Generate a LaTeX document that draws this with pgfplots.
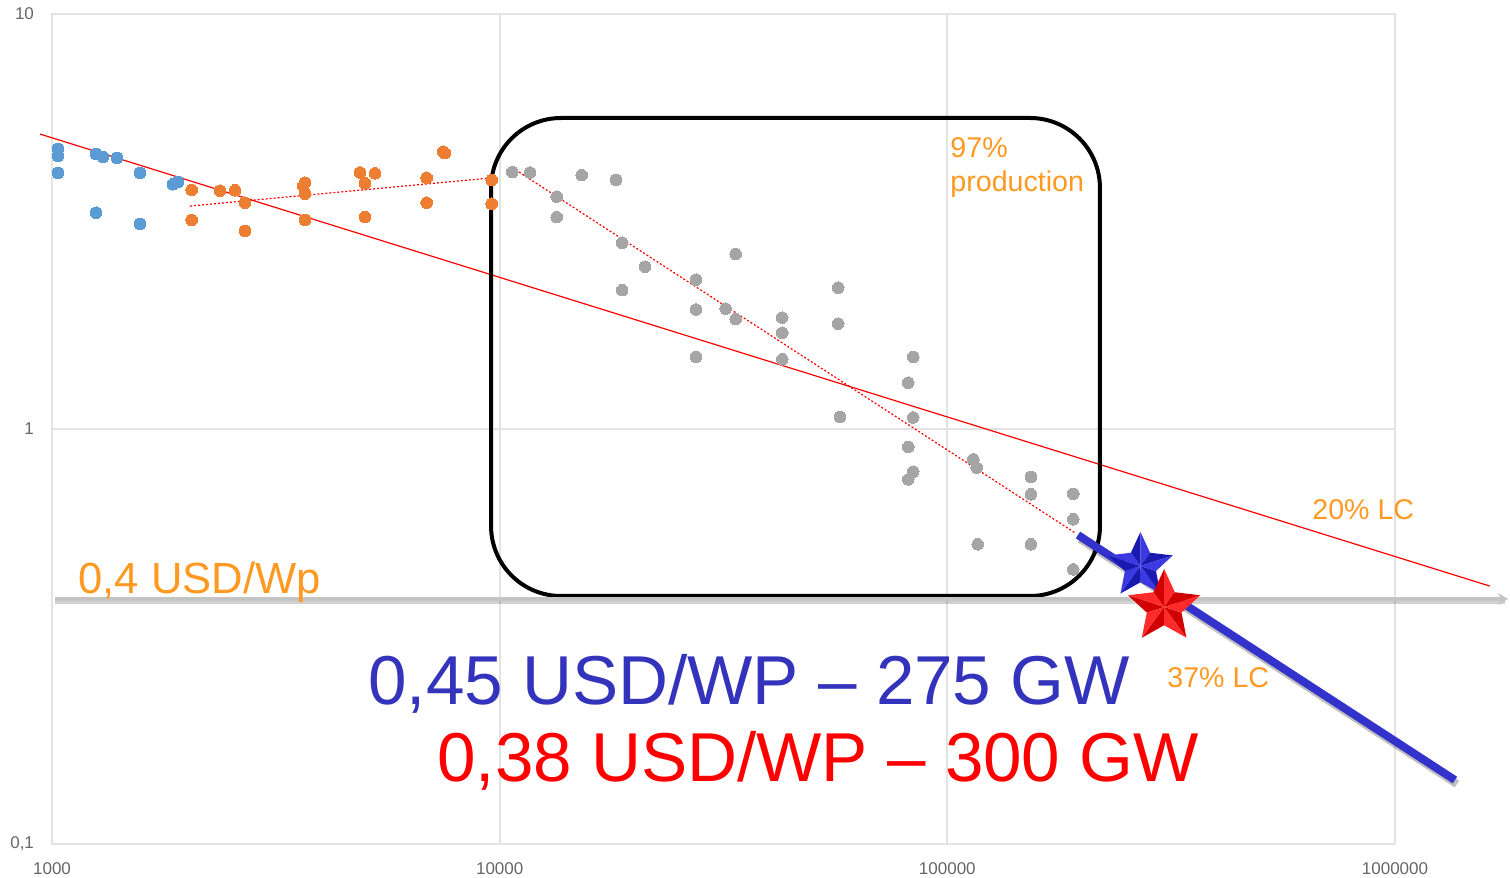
\documentclass[border=0pt]{standalone}
\usepackage{pgfplots}
\pgfplotsset{compat=1.18}
\usepackage{fontspec}
\setmainfont{Liberation Sans}
\usetikzlibrary{arrows.meta}
\definecolor{cblue}{HTML}{5B9BD5}
\definecolor{corange}{HTML}{ED7D31}
\definecolor{cgray}{HTML}{A5A5A5}
\definecolor{gridc}{HTML}{E3E3E3}
\definecolor{txtorange}{HTML}{FF9922}
\definecolor{txtblue}{HTML}{3333BB}
\definecolor{lineblue}{HTML}{3333CC}
\definecolor{ticktxt}{HTML}{666666}
\definecolor{hline}{HTML}{C4C4C4}
\definecolor{bstarL}{HTML}{3A3AE0}
\definecolor{bstarD}{HTML}{1A1AB0}
\definecolor{rstarL}{HTML}{FF2A2A}
\definecolor{rstarD}{HTML}{D00000}

\newcommand\defstar[3]{%
 \pgfdeclareplotmark{#1}{%
  \foreach \k in {0,...,4}{%
    \pgfmathsetmacro\aa{90+72*\k}%
    \pgfmathsetmacro\bb{90+72*\k+36}%
    \pgfmathsetmacro\cc{90+72*\k-36}%
    \pgfpathmoveto{\pgfpointorigin}%
    \pgfpathlineto{\pgfpointpolar{\aa}{\pgfplotmarksize}}%
    \pgfpathlineto{\pgfpointpolar{\bb}{0.48\pgfplotmarksize}}%
    \pgfpathclose
    \pgfsetfillcolor{#3}\pgfusepath{fill}%
    \pgfpathmoveto{\pgfpointorigin}%
    \pgfpathlineto{\pgfpointpolar{\aa}{\pgfplotmarksize}}%
    \pgfpathlineto{\pgfpointpolar{\cc}{0.48\pgfplotmarksize}}%
    \pgfpathclose
    \pgfsetfillcolor{#2}\pgfusepath{fill}%
  }%
 }}
\defstar{bluestar}{bstarL}{bstarD}
\defstar{redstar}{rstarL}{rstarD}
\begin{document}
\begin{tikzpicture}
\path[use as bounding box] (-26pt,-17pt) rectangle (729pt,422pt);
\begin{axis}[
  xmode=log, ymode=log,
  width=671.5pt, height=415pt, scale only axis,
  xmin=1000, xmax=1000000, ymin=0.1, ymax=10,
  clip=false,
  grid=major,
  major grid style={draw=gridc, line width=0.9pt},
  axis line style={draw=gridc, line width=0.9pt},
  major tick length=0pt, minor tick length=0pt,
  xtick={1000,10000,100000,1000000},
  xticklabels={1000,10000,100000,1000000},
  ytick={0.1,1,10},
  yticklabels={{0,1},1,10},
  ticklabel style={font=\fontsize{8.5}{10}\selectfont, text=ticktxt},
  yticklabel style={xshift=-5.5pt},
  xticklabel style={yshift=-6pt},
]
% scatter data
\addplot[only marks, color=cblue, mark=*, mark size=2.9pt, mark options={draw=cblue, fill=cblue, line width=0pt}] coordinates {
(1031,4.73) (1031,4.55) (1031,4.14) (1254,4.60) (1300,4.52) (1397,4.50)
(1573,4.14) (1863,3.89) (1911,3.94) (1254,3.32) (1573,3.12)
};
\addplot[only marks, color=corange, mark=*, mark size=2.9pt, mark options={draw=corange, fill=corange, line width=0pt}] coordinates {
(2051,3.77) (2373,3.75) (2564,3.76) (2698,3.51) (2051,3.19) (2698,3.00)
(3641,3.85) (3673,3.92) (3673,3.69) (3673,3.19) (4875,4.15) (5267,4.13)
(5002,3.91) (5002,3.24) (6869,4.03) (6869,3.51) (7547,4.62) (7480,4.66)
(9596,3.98) (9596,3.49)
};
\addplot[only marks, color=cgray, mark=*, mark size=2.9pt, mark options={draw=cgray, fill=cgray, line width=0pt}] coordinates {
(10670,4.16) (11686,4.15) (15250,4.09) (18190,3.98) (13410,3.63) (13410,3.24)
(18780,2.81) (21120,2.46) (18780,2.16) (27450,2.29) (27450,1.94) (31970,1.95)
(33660,2.64) (33660,1.84) (27450,1.49) (42780,1.855) (42780,1.706) (42780,1.472)
(57050,2.19) (57050,1.794) (57550,1.069) (83900,1.491) (81770,1.293) (83900,1.066)
(81770,0.905) (83900,0.789) (81770,0.756) (114300,0.845) (116300,0.807)
(153700,0.766) (153700,0.696) (191100,0.698) (191100,0.606) (116900,0.5275)
(153700,0.5275) (191100,0.459)
};
% trend lines
\addplot[red, line width=0.6pt] coordinates {(940,5.137) (1629000,0.4183)};
\addplot[red, line width=0.6pt, dash pattern=on 1pt off 1pt] coordinates {(2033,3.445) (9513,4.025)};
\addplot[red, line width=0.6pt, dash pattern=on 1pt off 1pt] coordinates {(10670,4.262) (192700,0.5624)};
% rounded box
\draw[black, line width=2pt, rounded corners=35pt] (rel axis cs:0.3269,0.2988) rectangle (rel axis cs:0.7803,0.8747);
% 0.4 USD/Wp line
\addplot[black, opacity=0.18, line width=2pt, yshift=-1.5pt, forget plot] coordinates {(1015,0.3894) (1760000,0.3894)};
\addplot[hline, line width=2pt, -{Stealth[length=5pt,width=6pt]}] coordinates {(1015,0.3894) (1788000,0.3894)};
% blue projection line
\addplot[black, opacity=0.25, line width=4pt, xshift=1pt, yshift=-2pt, forget plot] coordinates {(195800,0.5553) (1361000,0.1426)};
\addplot[lineblue, line width=4pt] coordinates {(195800,0.5553) (1361000,0.1426)};
% stars
\addplot[only marks, mark=bluestar, mark size=17pt] coordinates {(270000,0.4677)};
\addplot[only marks, mark=redstar, mark size=19pt] coordinates {(305000,0.3725)};
% texts
\node[anchor=base west, text=txtorange, font=\fontsize{14.3}{17}\selectfont, inner sep=0pt] at (rel axis cs:0.6687,0.8277) {97\%};
\node[anchor=base west, text=txtorange, font=\fontsize{14.3}{17}\selectfont, inner sep=0pt] at (rel axis cs:0.6687,0.7867) {production};
\node[anchor=base west, text=txtorange, font=\fontsize{14.3}{17}\selectfont, inner sep=0pt] at (rel axis cs:0.9382,0.3904) {20\% LC};
\node[anchor=base west, text=txtorange, font=\fontsize{14.3}{17}\selectfont, inner sep=0pt] at (rel axis cs:0.8302,0.188) {37\% LC};
\node[anchor=base west, text=txtorange, font=\fontsize{21.8}{26}\selectfont, inner sep=0pt] at (rel axis cs:0.0194,0.3024) {0,4 USD/Wp};
\node[anchor=base west, text=txtblue, font=\fontsize{34.6}{40}\selectfont, inner sep=0pt] at (rel axis cs:0.2353,0.1675) {0,45 USD/WP – 275 GW};
\node[anchor=base west, text=red, font=\fontsize{34.6}{40}\selectfont, inner sep=0pt] at (rel axis cs:0.2867,0.0747) {0,38 USD/WP – 300 GW};
\end{axis}
\end{tikzpicture}
\end{document}
